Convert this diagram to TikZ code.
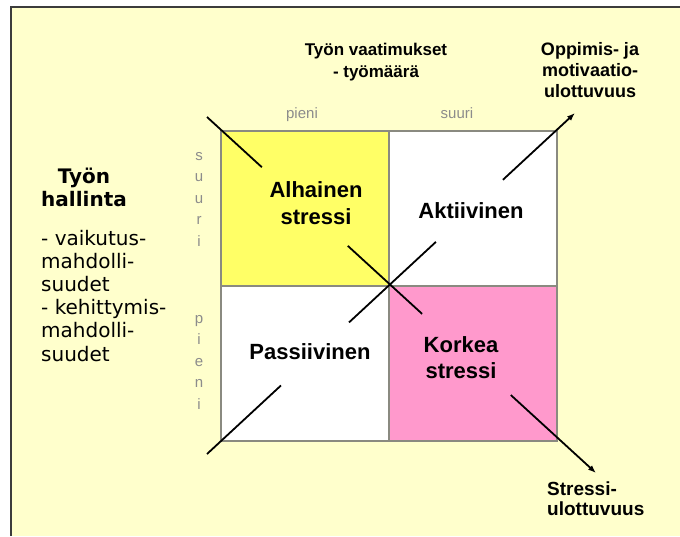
\documentclass[tikz,border=0pt]{standalone}
\usepackage{fontspec}
\setmainfont{Liberation Sans}
\newfontfamily\verd{DejaVu Sans}
\usetikzlibrary{arrows.meta,calc}
\definecolor{bg}{HTML}{FFFFCC}
\definecolor{yel}{HTML}{FFFF66}
\definecolor{pnk}{HTML}{FF99CC}
\definecolor{gridc}{HTML}{8A8A80}
\definecolor{lbl}{HTML}{8C8C8C}
\definecolor{framec}{HTML}{3C3C3C}
\begin{document}
\begin{tikzpicture}[x=1pt,y=-1pt,
  cell/.style={draw=gridc,line width=1.6pt,minimum width=168pt,minimum height=155pt,inner sep=0pt,outer sep=0pt},
  cellfont/.style={font=\bfseries\fontsize{22}{27}\selectfont,align=center,anchor=base,inner sep=0pt},
  headfont/.style={font=\bfseries\fontsize{17}{22}\selectfont,align=center,anchor=base,inner sep=0pt},
  dimfont/.style={font=\bfseries\fontsize{18}{21}\selectfont,inner sep=0pt,anchor=base},
  axisfont/.style={font=\fontsize{15}{21.5}\selectfont,text=lbl,align=center,anchor=base,inner sep=0pt},
  diag/.style={line width=1.8pt,black},
  tip/.style={-{Latex[length=8pt,width=6pt]}}
]
\useasboundingbox (0,0) rectangle (680,536);
% background and frame
\fill[bg] (11,7) rectangle (680,536);
\draw[framec,line width=2pt] (11,536) -- (11,7) -- (680,7);
% cells
\node[cell,fill=yel] (c11) at (305,208.5) {};
\node[cell,fill=white] (c12) at (473,208.5) {};
\node[cell,fill=white] (c21) at (305,363.5) {};
\node[cell,fill=pnk] (c22) at (473,363.5) {};
% diagonals
\coordinate (A) at (207,117);
\coordinate (B) at (596,473);
\coordinate (C) at (207,454);
\coordinate (D) at (575,113);
\draw[diag] (A) -- ($(A)!0.141!(B)$);
\draw[diag] ($(A)!0.362!(B)$) -- ($(A)!0.553!(B)$);
\draw[diag,tip] ($(A)!0.781!(B)$) -- (B);
\draw[diag] (C) -- ($(C)!0.201!(D)$);
\draw[diag] ($(C)!0.386!(D)$) -- ($(C)!0.622!(D)$);
\draw[diag,tip] ($(C)!0.804!(D)$) -- (D);
% cell labels (anchor = baseline of last line)
\node[cellfont] (t11) at (316,224) {Alhainen\\stressi};
\node[cellfont] (t12) at (471,218) {Aktiivinen};
\node[cellfont] (t21) at (310,359) {Passiivinen};
\node[cellfont,font=\bfseries\fontsize{22}{26}\selectfont] (t22) at (461,378) {Korkea\\stressi};
% headings
\node[headfont] (head) at (376,77) {Työn vaatimukset\\- työmäärä};
\node[dimfont,align=center] (motiv) at (590,97) {Oppimis- ja\\motivaatio-\\ulottuvuus};
\node[dimfont,align=left,anchor=base west,font=\bfseries\fontsize{19}{20}\selectfont] (stress) at (547,515) {Stressi-\\ulottuvuus};
% axis labels
\node[axisfont] (pienitop) at (302,118) {pieni};
\node[axisfont] (suuritop) at (457,118) {suuri};
\node[axisfont] (suurileft) at (199,246) {s\\u\\u\\r\\i};
\node[axisfont] (pienileft) at (199,409) {p\\i\\e\\n\\i};
% left block
\node[font=\verd\bfseries\fontsize{20}{23}\selectfont,align=center,anchor=base,inner sep=0pt] (hall) at (84,206) {Työn\\hallinta};
\node[font=\verd\fontsize{20}{23.2}\selectfont,align=left,anchor=base west,inner sep=0pt] (list) at (41,361) {- vaikutus-\\mahdolli-\\suudet\\- kehittymis-\\mahdolli-\\suudet};
\end{tikzpicture}
\end{document}
